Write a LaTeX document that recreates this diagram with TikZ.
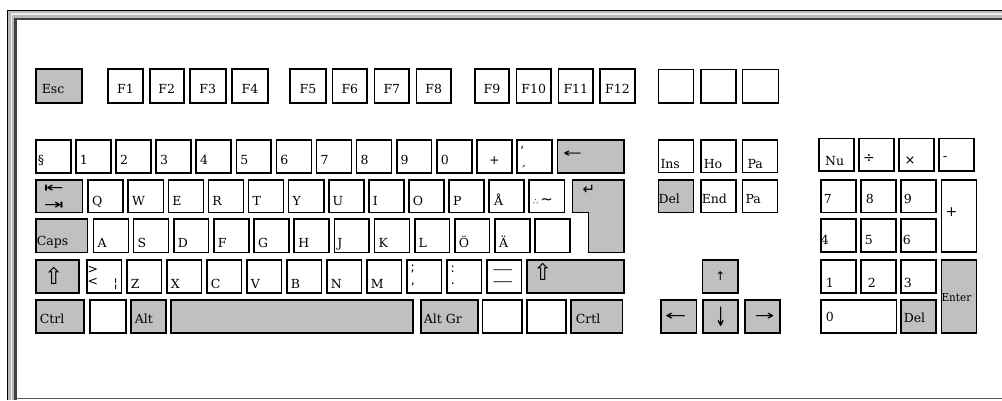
\documentclass[tikz,border=0pt]{standalone}
\usepackage{fontspec}
\usepackage{graphicx}
\setmainfont{DejaVu Serif}
\newfontfamily\symf{DejaVu Sans}
\definecolor{keygray}{RGB}{192,192,192}
\tikzset{
  kb/.style={draw=black, line width=1.6pt, fill=white, inner sep=0pt, outer sep=0pt, anchor=north west},
  kg/.style={kb, fill=keygray},
  lab/.style={inner sep=0pt, outer sep=0pt, font=\fontsize{12.5}{13}\selectfont, anchor=base west},
  sym/.style={inner sep=0pt, outer sep=0pt, font=\symf\fontsize{12.5}{13}\selectfont, anchor=center},
}
\newcommand\kkey[6]{\node[#1, xshift=0.8pt, yshift=-0.8pt, minimum width=#5pt-1.6pt, minimum height=#6pt-1.6pt] (#2) at (#3,#4) {};}
\newcommand\klab[6][]{\node[lab,#1] (#2) at ([xshift=#4pt,yshift=#5pt]#3.south west) {#6};}
\newcommand\kcen[5][]{\node[lab,anchor=base,#1] (#2) at ([yshift=#4pt]#3.south) {#5};}
\newcommand\ksym[6][]{\node[sym,#1] (#2) at ([xshift=#4pt,yshift=#5pt]#3.south west) {#6};}
\begin{document}
\begin{tikzpicture}[x=1pt,y=-1pt]
\useasboundingbox (0,0) rectangle (1002,400);
% frame
\fill[gray!55] (7,10) rectangle (1002,20.3);
\fill[gray!55] (7,10) rectangle (16.7,400);
\draw[black, line width=1.2pt] (7.6,400) -- (7.6,10.6) -- (1002,10.6);
\draw[gray!15, line width=1.6pt] (11.3,400) -- (11.3,14.2) -- (1002,14.2);
\draw[black!75, line width=2.6pt] (15.4,400) -- (15.4,18.8) -- (1002,18.8);
\draw[black!65, line width=1.6pt] (15.4,398.6) -- (1002,398.6);

% ---------- function row ----------
\kkey{kg}{esc}{35}{68}{48}{36}
\kkey{kb}{f1}{107}{68}{37}{36}
\kkey{kb}{f2}{149}{68}{35.5}{36}
\kkey{kb}{f3}{189}{68}{37.5}{36}
\kkey{kb}{f4}{231}{68}{38}{36}
\kkey{kb}{f5}{289.3}{68}{37.4}{36}
\kkey{kb}{f6}{331.7}{68}{36.3}{36}
\kkey{kb}{f7}{373.7}{68}{36.3}{36}
\kkey{kb}{f8}{415.7}{68}{36}{36}
\kkey{kb}{f9}{474}{68}{36}{36}
\kkey{kb}{f10}{515.7}{68}{36}{36}
\kkey{kb}{f11}{557.7}{68}{36.3}{36}
\kkey{kb}{f12}{599}{68}{37}{36}
\kkey{kb}{ex1}{657.7}{68.5}{36.6}{35}
\kkey{kb}{ex2}{700}{68.5}{36.7}{35}
\kkey{kb}{ex3}{741.7}{68.5}{37.6}{35}
\klab{esct}{esc}{6}{10}{Esc}
\kcen{f1t}{f1}{10}{F1}
\kcen{f2t}{f2}{10}{F2}
\kcen{f3t}{f3}{10}{F3}
\kcen{f4t}{f4}{10}{F4}
\kcen{f5t}{f5}{10}{F5}
\kcen{f6t}{f6}{10}{F6}
\kcen{f7t}{f7}{10}{F7}
\kcen{f8t}{f8}{10}{F8}
\kcen{f9t}{f9}{10}{F9}
\kcen{f10t}{f10}{10}{F10}
\kcen{f11t}{f11}{10}{F11}
\kcen{f12t}{f12}{10}{F12}

% ---------- number row ----------
\kkey{kb}{n0}{35}{139}{36.5}{35}
\kkey{kb}{n1}{75.1}{139}{36.5}{35}
\kkey{kb}{n2}{115.2}{139}{36.5}{35}
\kkey{kb}{n3}{155.3}{139}{36.5}{35}
\kkey{kb}{n4}{195.4}{139}{36.5}{35}
\kkey{kb}{n5}{235.5}{139}{36.5}{35}
\kkey{kb}{n6}{275.6}{139}{36.5}{35}
\kkey{kb}{n7}{315.7}{139}{36.5}{35}
\kkey{kb}{n8}{355.8}{139}{36.5}{35}
\kkey{kb}{n9}{395.9}{139}{36.5}{35}
\kkey{kb}{n10}{436}{139}{36.5}{35}
\kkey{kb}{n11}{476.1}{139}{36.5}{35}
\kkey{kb}{n12}{516.2}{139}{36.5}{35}
\kkey{kg}{bksp}{556.7}{139}{68.3}{35}
\klab{n0t}{n0}{2}{9}{§}
\klab{n1t}{n1}{4}{9}{1}
\klab{n2t}{n2}{4}{9}{2}
\klab{n3t}{n3}{4}{9}{3}
\klab{n4t}{n4}{4}{9}{4}
\klab{n5t}{n5}{4}{9}{5}
\klab{n6t}{n6}{4}{9}{6}
\klab{n7t}{n7}{4}{9}{7}
\klab{n8t}{n8}{4}{9}{8}
\klab{n9t}{n9}{4}{9}{9}
\klab{n10t}{n10}{4}{9}{0}
\kcen{n11t}{n11}{9}{+}
\klab{n12a}{n12}{3}{18}{\symbol{96}}
\klab{n12b}{n12}{3}{-2}{´}
\ksym{bkspt}{bksp}{15}{19}{\scalebox{1.8}[1]{←}}

% ---------- Q row ----------
\kkey{kg}{tab}{35}{179}{48.3}{34.3}
\kkey{kb}{q0}{87.3}{179}{36.7}{34.3}
\kkey{kb}{q1}{127.4}{179}{36.7}{34.3}
\kkey{kb}{q2}{167.5}{179}{36.7}{34.3}
\kkey{kb}{q3}{207.6}{179}{36.7}{34.3}
\kkey{kb}{q4}{247.7}{179}{36.7}{34.3}
\kkey{kb}{q5}{287.8}{179}{36.7}{34.3}
\kkey{kb}{q6}{327.9}{179}{36.7}{34.3}
\kkey{kb}{q7}{368.0}{179}{36.7}{34.3}
\kkey{kb}{q8}{408.1}{179}{36.7}{34.3}
\kkey{kb}{q9}{448.2}{179}{36.7}{34.3}
\kkey{kb}{q10}{488.3}{179}{36.7}{34.3}
\kkey{kb}{q11}{528.4}{179}{36.7}{34.3}
\draw[fill=keygray, line width=1.6pt] (572.5,179.8) -- (624.2,179.8) -- (624.2,252.5)
  -- (588.5,252.5) -- (588.5,212.5) -- (572.5,212.5) -- cycle;
\node[sym, font=\symf\fontsize{15}{15}\selectfont] (entt) at (589,190) {↵};
\ksym[font=\symf\fontsize{14}{14}\selectfont]{tabt1}{tab}{18}{24}{\scalebox{1.7}[1]{⇤}}
\ksym[font=\symf\fontsize{14}{14}\selectfont]{tabt2}{tab}{18}{7}{\scalebox{1.7}[1]{⇥}}
\klab{q0t}{q0}{4}{7}{Q}
\klab{q1t}{q1}{4}{7}{W}
\klab{q2t}{q2}{4}{7}{E}
\klab{q3t}{q3}{4}{7}{R}
\klab{q4t}{q4}{4}{7}{T}
\klab{q5t}{q5}{4}{7}{Y}
\klab{q6t}{q6}{4}{7}{U}
\klab{q7t}{q7}{4}{7}{I}
\klab{q8t}{q8}{4}{7}{O}
\klab{q9t}{q9}{4}{7}{P}
\klab{q10t}{q10}{5}{7}{Å}
\klab{q11t}{q11}{4}{8}{{\symf\fontsize{8}{9}\selectfont ∴}\,{\symf\fontsize{15}{15}\selectfont\symbol{126}}}

% ---------- home row ----------
\kkey{kg}{caps}{35}{218.3}{53.3}{35}
\kkey{kb}{a0}{92.7}{218.3}{36.4}{35}
\kkey{kb}{a1}{132.85}{218.3}{36.4}{35}
\kkey{kb}{a2}{173.0}{218.3}{36.4}{35}
\kkey{kb}{a3}{213.15}{218.3}{36.4}{35}
\kkey{kb}{a4}{253.3}{218.3}{36.4}{35}
\kkey{kb}{a5}{293.45}{218.3}{36.4}{35}
\kkey{kb}{a6}{333.6}{218.3}{36.4}{35}
\kkey{kb}{a7}{373.75}{218.3}{36.4}{35}
\kkey{kb}{a8}{413.9}{218.3}{36.4}{35}
\kkey{kb}{a9}{454.05}{218.3}{36.4}{35}
\kkey{kb}{a10}{494.2}{218.3}{36.4}{35}
\kkey{kb}{a11}{534.35}{218.3}{36.4}{35}
\klab{capst}{caps}{1}{7}{Caps}
\klab{a0t}{a0}{4}{5}{A}
\klab{a1t}{a1}{4}{5}{S}
\klab{a2t}{a2}{4}{5}{D}
\klab{a3t}{a3}{4}{5}{F}
\klab{a4t}{a4}{4}{5}{G}
\klab{a5t}{a5}{4}{5}{H}
\klab{a6t}{a6}{3}{5}{J}
\klab{a7t}{a7}{4}{5}{K}
\klab{a8t}{a8}{4}{5}{L}
\klab{a9t}{a9}{4}{5}{Ö}
\klab{a10t}{a10}{4}{5}{Ä}

% ---------- Z row ----------
\kkey{kg}{lsh}{35}{259}{45}{35}
\kkey{kb}{z0}{86}{259}{36.3}{35}
\kkey{kb}{z1}{126}{259}{36.3}{35}
\kkey{kb}{z2}{166}{259}{36.3}{35}
\kkey{kb}{z3}{206}{259}{36.3}{35}
\kkey{kb}{z4}{246}{259}{36.3}{35}
\kkey{kb}{z5}{286}{259}{36.3}{35}
\kkey{kb}{z6}{326}{259}{36.3}{35}
\kkey{kb}{z7}{366}{259}{36.3}{35}
\kkey{kb}{z8}{406}{259}{36.3}{35}
\kkey{kb}{z9}{446}{259}{36.3}{35}
\kkey{kb}{z10}{486}{259}{36.3}{35}
\kkey{kg}{rsh}{526}{259}{99}{35}
\ksym[font=\symf\fontsize{23}{23}\selectfont]{lsht}{lsh}{18}{17}{⇧}
\ksym[font=\symf\fontsize{23}{23}\selectfont]{rsht}{rsh}{16}{21}{⇧}
\ksym{z0a}{z0}{6}{23}{>}
\ksym{z0b}{z0}{6}{11}{<}
\ksym{z0c}{z0}{29}{9}{¦}
\klab{z1t}{z1}{4}{5}{Z}
\klab{z2t}{z2}{4}{5}{X}
\klab{z3t}{z3}{4}{5}{C}
\klab{z4t}{z4}{4}{5}{V}
\klab{z5t}{z5}{4}{5}{B}
\klab{z6t}{z6}{4}{5}{N}
\klab{z7t}{z7}{4}{5}{M}
\ksym{z8a}{z8}{6}{24}{;}
\ksym{z8b}{z8}{6}{9}{,}
\ksym{z9a}{z9}{6}{24}{:}
\ksym{z9b}{z9}{6}{9}{.}
\ksym[font=\symf\fontsize{12}{12}\selectfont]{z10a}{z10}{16}{22}{\scalebox{1.7}[1]{—}}
\ksym[font=\symf\fontsize{12}{12}\selectfont]{z10b}{z10}{16}{10}{\scalebox{1.7}[1]{—}}

% ---------- bottom row ----------
\kkey{kg}{lctrl}{35}{299}{50}{35}
\kkey{kb}{lwin}{89}{299}{37.7}{35}
\kkey{kg}{alt}{130}{299}{36.7}{35}
\kkey{kg}{space}{170}{299}{244}{35}
\kkey{kg}{altgr}{420}{299}{59}{35}
\kkey{kb}{rwin}{481.7}{299}{41}{35}
\kkey{kb}{menu}{526}{299}{40.7}{35}
\kkey{kg}{rctrl}{570}{299}{53.3}{35}
\klab{lctrlt}{lctrl}{4}{10}{Ctrl}
\klab{altt}{alt}{4}{10}{Alt}
\klab{altgrt}{altgr}{3}{10}{Alt Gr}
\klab{rctrlt}{rctrl}{5}{10}{Crtl}

% ---------- navigation ----------
\kkey{kb}{ins}{657.7}{139}{36.6}{34.3}
\kkey{kb}{home}{700}{139}{36.7}{34.3}
\kkey{kb}{pgup}{741.7}{139}{36.6}{34.3}
\kkey{kg}{del}{657.7}{179}{36.6}{34.3}
\kkey{kb}{end}{700}{179}{36.7}{34.3}
\kkey{kb}{pgdn}{741.7}{179}{36.6}{34.3}
\klab{inst}{ins}{2}{4}{Ins}
\klab{homet}{home}{3}{4}{Ho}
\klab{pgupt}{pgup}{5}{4}{Pa}
\klab{delt}{del}{0}{9}{Del}
\klab{endt}{end}{1}{9}{End}
\klab{pgdnt}{pgdn}{3}{9}{Pa}
\kkey{kg}{up}{701.7}{259}{37.3}{35}
\kkey{kg}{left}{660}{299}{37.3}{35}
\kkey{kg}{down}{702.3}{299}{36.7}{35}
\kkey{kg}{right}{744}{299}{37}{35}
\node[sym, font=\symf\fontsize{12}{12}\selectfont] (upt) at (up.center) {↑};
\node[sym, font=\symf\fontsize{14}{14}\selectfont] (leftt) at ([xshift=-3pt]left.center) {\scalebox{1.8}[1]{←}};
\node[sym, font=\symf\fontsize{14}{14}\selectfont] (downt) at (down.center) {\scalebox{1}[1.9]{↓}};
\node[sym, font=\symf\fontsize{14}{14}\selectfont] (rightt) at ([xshift=2pt]right.center) {\scalebox{1.7}[1]{→}};

% ---------- numpad ----------
\kkey{kb}{num}{818.3}{137.5}{36.7}{34.2}
\kkey{kb}{div}{858.3}{137.5}{36.7}{34.2}
\kkey{kb}{mul}{898.3}{137.5}{36.7}{34.2}
\kkey{kb}{sub}{938.3}{137.5}{36.7}{34.2}
\kkey{kb}{k7}{820}{179}{36.7}{34.3}
\kkey{kb}{k8}{860}{179}{36.7}{34.3}
\kkey{kb}{k9}{900}{179}{36.7}{34.3}
\kkey{kb}{add}{940.7}{179}{36.6}{73.7}
\kkey{kb}{k4}{820}{218.3}{36.7}{34.4}
\kkey{kb}{k5}{860}{218.3}{36.7}{34.4}
\kkey{kb}{k6}{900}{218.3}{36.7}{34.4}
\kkey{kb}{k1}{820}{259}{36.7}{35}
\kkey{kb}{k2}{860}{259}{36.7}{35}
\kkey{kb}{k3}{900}{259}{36.7}{35}
\kkey{kg}{kent}{940.7}{259}{36.6}{75}
\kkey{kb}{k0}{820}{299}{77.3}{35}
\kkey{kg}{kdel}{900}{299}{36.7}{35}
\klab{numt}{num}{6}{5}{Nu}
\ksym[font=\symf\fontsize{14}{14}\selectfont]{divt}{div}{10}{12}{÷}
\ksym[font=\symf\fontsize{13}{13}\selectfont]{mult}{mul}{11}{10}{×}
\ksym{subt}{sub}{6}{12}{-}
\klab{k7t}{k7}{3}{9}{7}
\klab{k8t}{k8}{5}{9}{8}
\klab{k9t}{k9}{3}{9}{9}
\ksym[font=\symf\fontsize{14}{14}\selectfont]{addt}{add}{10}{40}{+}
\klab{k4t}{k4}{0}{7}{4}
\klab{k5t}{k5}{4}{7}{5}
\klab{k6t}{k6}{2}{7}{6}
\klab{k1t}{k1}{5}{6}{1}
\klab{k2t}{k2}{7}{6}{2}
\klab{k3t}{k3}{3}{6}{3}
\klab{k0t}{k0}{5}{12}{0}
\klab{kdelt}{kdel}{3}{11}{Del}
\klab[font=\fontsize{11}{11}\selectfont]{kentt}{kent}{0}{32}{\scalebox{0.95}[1]{Enter}}
\end{tikzpicture}
\end{document}
